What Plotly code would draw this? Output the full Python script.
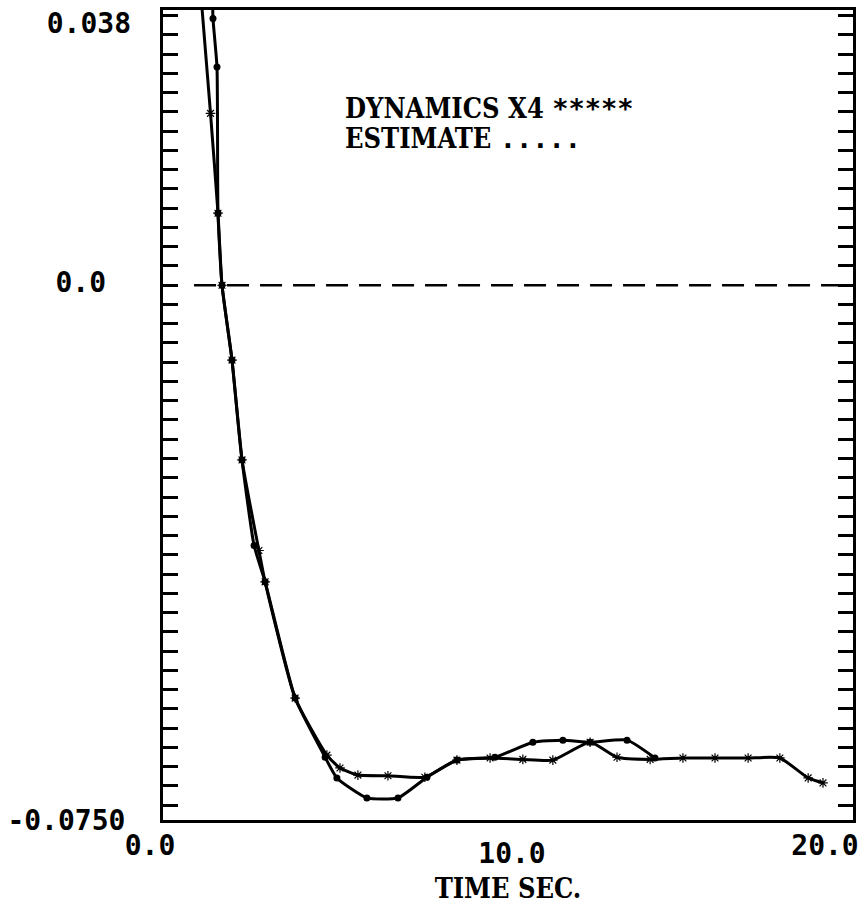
import plotly.graph_objects as go

# ---- data ----
dyn_t = [1.10, 1.377, 1.594, 1.71, 2.00, 2.29, 2.78, 2.96, 3.83, 4.75, 5.13, 5.65, 6.52, 7.59,
         8.52, 9.48, 10.43, 11.30, 12.38, 13.16, 14.12, 15.07, 16.00, 16.96, 17.88, 18.70, 19.13]
dyn_v = [0.0407, 0.0241, 0.0101, 0.0, -0.0105, -0.0245, -0.0372, -0.0416, -0.0579, -0.0659, -0.0677,
         -0.0687, -0.0688, -0.0690, -0.0666, -0.0663, -0.0665, -0.0666, -0.0641, -0.0662, -0.0665,
         -0.0663, -0.0663, -0.0663, -0.0663, -0.0691, -0.0698]

est_t = [1.435, 1.449, 1.565, 1.594, 1.71, 2.00, 2.29, 2.64, 2.96, 3.83, 4.70, 5.04, 5.91, 6.81,
         7.65, 8.52, 9.62, 10.72, 11.59, 12.38, 13.45, 14.26]
est_v = [0.0407, 0.0374, 0.0306, 0.0101, 0.0, -0.0105, -0.0245, -0.0365, -0.0416, -0.0579, -0.0662,
         -0.0691, -0.0719, -0.0719, -0.0690, -0.0666, -0.0662, -0.0641, -0.0638, -0.0641, -0.0638,
         -0.0663]

zero_t = [0.9, 20.0]
zero_v = [0.0, 0.0]

x_range = [0.0, 20.0]
y_range = [-0.075, 0.0386]
# tick labels: (value, text), each drawn on its own axis layer so that it can be nudged
x_labels = [(10.0, "10.0"), (0.0, "0.0"), (20.0, "20.0")]
y_labels = [(-0.075, "-0.0750"), (0.038, "0.038"), (0.0, "0.0")]

MONO = "DejaVu Sans Mono"
legend_lines = ["DYNAMICS X4 <span style='font-family:%s'>*****</span>" % MONO,
                "ESTIMATE <span style='font-family:%s'><b>.....</b></span>" % MONO]
x_title = "TIME SEC."

# ---- figure ----
fig = go.Figure()

# each trace sits on one of the (identically scaled) axis layers so every layer is drawn
fig.add_trace(go.Scatter(x=dyn_t, y=dyn_v, mode="lines+markers", xaxis="x", yaxis="y",
                         line=dict(color="black", width=3, shape="spline", smoothing=0.5),
                         marker=dict(symbol="asterisk-open", size=8, color="black",
                                     line=dict(color="black", width=1.2)),
                         showlegend=False))

fig.add_trace(go.Scatter(x=est_t, y=est_v, mode="lines+markers", xaxis="x2", yaxis="y2",
                         line=dict(color="black", width=3, shape="spline", smoothing=0.5),
                         marker=dict(symbol="circle", size=7, color="black"),
                         showlegend=False))

fig.add_trace(go.Scatter(x=zero_t, y=zero_v, mode="lines", xaxis="x3", yaxis="y3",
                         line=dict(color="black", width=2.5, dash="22px,11px"),
                         hoverinfo="skip", showlegend=False))

tick_font = dict(family=MONO, size=28, color="black", weight="bold")
type_font = dict(family="DejaVu Serif Condensed, DejaVu Serif", size=27, color="black",
                 weight="bold")

x_shift = [4, -13, -28]
y_shift = [0, 9, -3]
y_standoff = [29, 31, 56]

layout_axes = {}
for i, (val, txt) in enumerate(x_labels):
    name = "xaxis" if i == 0 else "xaxis%d" % (i + 1)
    ax = dict(range=x_range, tickmode="array", tickvals=[val], ticktext=[txt], ticks="",
              showgrid=False, zeroline=False, tickfont=tick_font, ticklabelstandoff=6,
              ticklabelshift=x_shift[i], automargin=False)
    if i == 0:
        ax.update(showline=True, linecolor="black", linewidth=3, mirror=True,
                  title=dict(text=x_title, font=type_font, standoff=11))
    else:
        ax.update(overlaying="x", side="bottom", showline=False)
    layout_axes[name] = ax

for i, (val, txt) in enumerate(y_labels):
    name = "yaxis" if i == 0 else "yaxis%d" % (i + 1)
    ax = dict(range=y_range, tickmode="array", tickvals=[val], ticktext=[txt],
              showgrid=False, zeroline=False, tickfont=tick_font, ticklabelstandoff=y_standoff[i],
              ticklabelshift=y_shift[i], automargin=False)
    if i == 0:
        ax.update(ticks="inside", ticklen=15, tickwidth=2.5, tickcolor="black",
                  minor=dict(ticks="inside", ticklen=15, tickwidth=2.5, tickcolor="black",
                             tick0=0.0, dtick=0.0027, showgrid=False),
                  showline=True, linecolor="black", linewidth=3, mirror="ticks")
    else:
        ax.update(overlaying="y", side="left", showline=False, ticks="")
    layout_axes[name] = ax

fig.update_layout(**layout_axes)

for i, txt in enumerate(legend_lines):
    fig.add_annotation(text=txt, xref="paper", yref="paper", x=0.261, y=0.879 - i * 0.038,
                       xanchor="left", yanchor="middle", showarrow=False, font=type_font)

fig.update_layout(width=864, height=905, margin=dict(l=163, r=11, t=10, b=85),
                  paper_bgcolor="white", plot_bgcolor="white")

fig.write_html("out.html")
